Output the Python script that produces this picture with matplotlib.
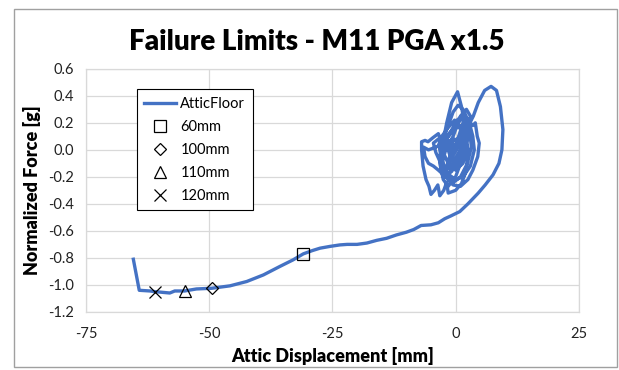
import matplotlib
matplotlib.use("Agg")
import matplotlib.pyplot as plt
from matplotlib.patches import Rectangle
from matplotlib.ticker import FormatStrFormatter

plt.rcParams['font.family'] = ['Lato', 'DejaVu Sans']
plt.rcParams['axes.unicode_minus'] = False

# small cycles around the origin (mm, g)
cycle_disp = [0.0, 0.8, 1.5, 0.5, -0.8, -1.5, -0.5, 0.6, 1.8, 2.2, 1.0, -1.0, -2.0, -1.2,
              0.2, 1.5, 2.5, 2.0, 0.5, -1.5, -2.5, -2.8, -2.0, -0.5, 1.0, 2.2, 3.0, 2.5,
              1.5, 0.0, -1.5, -2.5, -3.2, -3.0, -2.5, -1.8, -0.8, 0.4, 1.2, 2.0, 2.5, 2.2,
              1.2, 0.0, -1.5, -1.8, -2.4, -3.2, -3.6, -4.3, -5.0, -5.4, -6.0, -6.6, -6.9,
              -6.9, -6.2, -5.6, -4.6, -3.5, -2.9, -2.4, -1.5, -0.5, 0.5, 1.5, 2.5, 3.5,
              4.0, 4.4, 4.8, 4.5, 3.5, 2.5, 1.0, -0.5, -2.0, -3.5, -4.5, -5.5, -6.2, -6.5,
              -5.5, -4.0, -2.5, -1.0, 0.5, 1.8, 2.8, 3.5, 3.8, 3.0, 1.5, 0.0, -1.5, -3.0,
              -4.0, -4.5, -3.5, -2.0, -0.5, 1.0, 2.0, 2.3, 1.5, 0.0, -1.5, -2.5, -2.0,
              -0.5, 1.0, 1.5, 0.5, -1.0, -1.5, -0.5, 0.8, 1.8, 2.6, 2.0, 0.6, -0.8, -2.2,
              -3.0, -2.6, -1.2, 0.3, 1.6, 2.8, 3.2, 2.4, 1.0, -0.4, -1.8, -2.8, -3.4, -2.8,
              -1.6, -0.2, 1.2, 2.2, 1.4, 0.0, -1.0, -0.6, 0.4, 1.2]
cycle_force = [0.00, 0.06, 0.10, 0.02, -0.06, -0.10, -0.02, 0.05, 0.14, 0.10, 0.00, -0.12,
               -0.15, -0.05, 0.05, 0.20, 0.22, 0.10, -0.05, -0.18, -0.20, -0.10, 0.00, 0.10,
               0.25, 0.30, 0.25, 0.10, -0.05, -0.20, -0.27, -0.22, -0.10, 0.05, 0.07, 0.20,
               0.35, 0.43, 0.32, 0.15, 0.00, -0.15, -0.25, -0.30, -0.32, -0.24, -0.30, -0.34,
               -0.26, -0.30, -0.33, -0.27, -0.22, -0.12, 0.00, 0.06, 0.07, 0.06, 0.09, 0.12,
               0.06, 0.10, 0.18, 0.28, 0.33, 0.30, 0.22, 0.18, 0.20, 0.10, 0.05, -0.05,
               -0.15, -0.22, -0.27, -0.26, -0.20, -0.15, -0.12, -0.10, -0.05, 0.02, 0.00,
               0.02, 0.05, 0.12, 0.20, 0.25, 0.20, 0.10, 0.00, -0.12, -0.20, -0.22, -0.18,
               -0.10, -0.02, 0.05, 0.08, 0.10, 0.15, 0.18, 0.12, 0.00, -0.10, -0.15, -0.10,
               -0.02, 0.05, 0.08, 0.07, 0.00, -0.07, -0.06, 0.00, 0.04, 0.03, 0.12, 0.16,
               0.05, -0.08, -0.16, -0.20, -0.12, 0.02, 0.12, 0.22, 0.26, 0.16, 0.02, -0.10,
               -0.20, -0.24, -0.18, -0.06, 0.04, 0.10, 0.16, 0.22, 0.14, 0.02, -0.08, -0.12,
               -0.04, 0.06, 0.08, 0.12]

# large positive excursion and the final push to failure
push_disp = [2.5, 3.6, 4.6, 5.9, 7.2, 8.3, 9.1, 9.6, 9.4, 8.8, 7.6, 6.0, 4.6, 2.5, 0.85,
             -1.0, -2.2, -3.5, -5.0, -7.0, -8.5, -10.0, -12.0, -14.0, -16.0, -18.0, -20.0,
             -22.0, -23.5, -25.5, -27.5, -29.0, -30.9, -33.0, -35.7, -39.0, -42.4, -45.8,
             -49.5, -52.6, -55.0, -57.0, -58.0, -61.0, -62.0, -64.2, -65.4]
push_force = [0.17, 0.25, 0.35, 0.44, 0.47, 0.44, 0.32, 0.15, 0.00, -0.10, -0.185, -0.26,
              -0.32, -0.40, -0.457, -0.49, -0.51, -0.54, -0.555, -0.56, -0.59, -0.61, -0.63,
              -0.655, -0.67, -0.69, -0.70, -0.70, -0.704, -0.715, -0.728, -0.745, -0.77,
              -0.815, -0.864, -0.926, -0.975, -1.007, -1.025, -1.03, -1.045, -1.045, -1.06,
              -1.05, -1.045, -1.04, -0.81]

# failure limit points on the backbone
limit_labels = ['60mm', '100mm', '110mm', '120mm']
limit_disp = [-30.9, -49.5, -55.0, -61.0]
limit_force = [-0.77, -1.025, -1.045, -1.05]
limit_markers = ['s', 'D', '^', 'x']
limit_sizes = [8, 6, 8, 8]

disp = cycle_disp + push_disp
force = cycle_force + push_force

fig = plt.figure(figsize=(6.19, 3.70), dpi=100)
ax = fig.add_axes([0.139, 0.157, 0.796, 0.657])

ax.plot(disp, force, color='#4472C4', lw=2.4, label='AtticFloor', zorder=3,
        solid_joinstyle='round')
for lab, x, y, m, s in zip(limit_labels, limit_disp, limit_force, limit_markers, limit_sizes):
    ax.plot([x], [y], linestyle='none', marker=m, markersize=s, markerfacecolor='none',
            markeredgecolor='black', markeredgewidth=0.9, label=lab, zorder=4)

ax.set_xlim(-75, 25)
ax.set_ylim(-1.2, 0.6)
ax.set_xticks([-75, -50, -25, 0, 25])
ax.set_yticks([-1.2, -1.0, -0.8, -0.6, -0.4, -0.2, 0.0, 0.2, 0.4, 0.6])
ax.yaxis.set_major_formatter(FormatStrFormatter('%.1f'))
ax.grid(True, color='#d9d9d9', lw=0.9)
ax.set_axisbelow(True)
for sp in ax.spines.values():
    sp.set_color('#d9d9d9')
    sp.set_linewidth(0.9)
ax.tick_params(length=0, labelsize=10.5, colors='#222222')
ax.tick_params(axis='y', pad=9)
ax.tick_params(axis='x', pad=11)

# title centred on the whole chart rather than the plot area
fig.text(0.512, 0.886, 'Failure Limits - M11 PGA x1.5', fontsize=20, fontweight='heavy',
         ha='center', va='center')
ax.set_xlabel('Attic Displacement [mm]', fontsize=13, fontweight='heavy', labelpad=4)
ax.set_ylabel('Normalized Force [g]', fontsize=13, fontweight='heavy', labelpad=5)

leg = ax.legend(loc='upper left', bbox_to_anchor=(0.088, 0.945), fontsize=10.5,
                frameon=True, fancybox=False, edgecolor='black', framealpha=1,
                handlelength=2.2, handletextpad=0.3, labelspacing=0.62,
                borderpad=0.5)
leg.get_frame().set_linewidth(0.8)

# outer chart border
fig.patches.append(Rectangle((0.022, 0.008), 0.975, 0.968, transform=fig.transFigure,
                             fill=False, edgecolor='#a0a0a0', lw=1.0))

fig.savefig('out.png', dpi=100)
